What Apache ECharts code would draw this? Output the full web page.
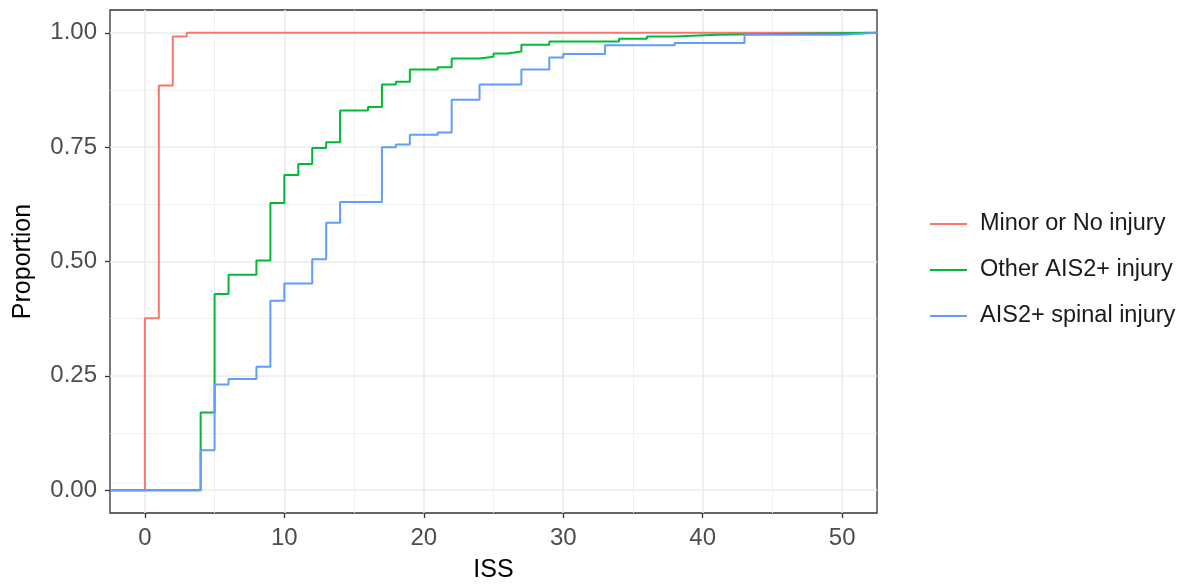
<!DOCTYPE html>
<html>
<head>
<meta charset="utf-8">
<script src="https://cdn.jsdelivr.net/npm/echarts@6/dist/echarts.min.js"></script>
<style>
  html, body { margin: 0; padding: 0; background: #fff; }
  #chart { width: 1184px; height: 585px; }
</style>
</head>
<body>
<div id="chart"></div>
<script>
// ECDF of ISS by injury group (padded with the axis ends like stat_ecdf)
const minorIss = [-2.5, 0, 1, 2, 3, 52.5]
const minorProp = [0, 0.376, 0.885, 0.992, 1.0, 1.0]

const otherIss = [-2.5, 4, 5, 6, 8, 9, 10, 11, 12, 13, 14, 16, 17, 18, 19, 21, 22, 24, 25, 26, 27, 29, 34, 36, 38, 41, 52.5]
const otherProp = [0, 0.170, 0.429, 0.471, 0.502, 0.628, 0.689, 0.713, 0.748, 0.761, 0.830, 0.838, 0.887, 0.893, 0.920, 0.925, 0.944, 0.948, 0.955, 0.959, 0.974, 0.981, 0.987, 0.992, 0.996, 1.0, 1.0]

const spinalIss = [-2.5, 4, 5, 6, 8, 9, 10, 12, 13, 14, 17, 18, 19, 21, 22, 24, 27, 29, 30, 33, 38, 43, 50, 52.5]
const spinalProp = [0, 0.087, 0.231, 0.243, 0.270, 0.414, 0.452, 0.505, 0.585, 0.630, 0.750, 0.756, 0.777, 0.782, 0.854, 0.887, 0.920, 0.946, 0.954, 0.973, 0.978, 0.996, 1.0, 1.0]

const xTicks = [0, 10, 20, 30, 40, 50]
const xMinor = [5, 15, 25, 35, 45]
const yTicks = [0, 0.25, 0.5, 0.75, 1]
const yMinor = [0.125, 0.375, 0.625, 0.875]

const groupNames = ['Minor or No injury', 'Other AIS2+ injury', 'AIS2+ spinal injury']
const groupColors = ['#F8766D', '#00BA38', '#619CFF']

const FONT = 'Liberation Sans, Arial, sans-serif'
const X_RANGE = [-2.5, 52.5]
const Y_RANGE = [-0.05, 1.05]

function pairs(xs, ys) {
  return xs.map((x, i) => [x, ys[i]])
}

function stepSeries(name, color, xs, ys) {
  return {
    name,
    type: 'line',
    step: 'end',
    symbol: 'none',
    data: pairs(xs, ys),
    lineStyle: { color, width: 2 },
    itemStyle: { color },
  }
}

// minor grid only: an invisible axis whose split lines sit on the minor breaks
function minorAxis(range, values, position) {
  return {
    type: 'value',
    min: range[0], max: range[1],
    position,
    axisLine: { show: false, onZero: false },
    axisTick: { show: false, customValues: values },
    axisLabel: { show: false, customValues: values },
    splitLine: { show: true, lineStyle: { color: '#EFEFEF', width: 0.9 } },
  }
}

const chart = echarts.init(document.getElementById('chart'), undefined, { renderer: 'canvas' })

chart.setOption({
  animation: false,
  backgroundColor: '#fff',
  grid: {
    left: 110, right: 307, top: 10, bottom: 72,
    outerBoundsMode: 'none',
    containLabel: false,
    show: true, borderColor: '#333', borderWidth: 1.3, backgroundColor: '#fff',
  },
  legend: {
    orient: 'vertical',
    left: 925,
    top: 207,
    icon: 'path://M0,0 H37 V2 H0 Z',
    itemWidth: 37,
    itemHeight: 2.5,
    itemGap: 22,
    data: groupNames,
    textStyle: { fontFamily: FONT, fontSize: 23.5, color: '#1a1a1a', padding: [0, 0, 0, 8], lineHeight: 24 },
  },
  xAxis: [
    {
      type: 'value',
      min: X_RANGE[0], max: X_RANGE[1],
      name: 'ISS',
      nameLocation: 'middle',
      nameGap: 45,
      nameTextStyle: { fontFamily: FONT, fontSize: 25, color: '#000' },
      axisLine: { show: false, onZero: false },
      axisTick: { show: true, customValues: xTicks, length: 5, lineStyle: { color: '#333', width: 1.3 } },
      axisLabel: { customValues: xTicks, margin: 13, fontFamily: FONT, fontSize: 24, color: '#4D4D4D' },
      splitLine: { show: true, lineStyle: { color: '#EBEBEB', width: 1.6 } },
    },
    minorAxis(X_RANGE, xMinor, 'bottom'),
  ],
  yAxis: [
    {
      type: 'value',
      min: Y_RANGE[0], max: Y_RANGE[1],
      name: 'Proportion',
      nameLocation: 'middle',
      nameGap: 74,
      nameRotate: 90,
      nameTextStyle: { fontFamily: FONT, fontSize: 25, color: '#000' },
      axisLine: { show: false, onZero: false },
      axisTick: { show: true, customValues: yTicks, length: 5, lineStyle: { color: '#333', width: 1.3 } },
      axisLabel: {
        customValues: yTicks, margin: 13, fontFamily: FONT, fontSize: 24, color: '#4D4D4D',
        formatter: (v) => v.toFixed(2),
      },
      splitLine: { show: true, lineStyle: { color: '#EBEBEB', width: 1.6 } },
    },
    minorAxis(Y_RANGE, yMinor, 'left'),
  ],
  series: [
    stepSeries(groupNames[0], groupColors[0], minorIss, minorProp),
    stepSeries(groupNames[1], groupColors[1], otherIss, otherProp),
    stepSeries(groupNames[2], groupColors[2], spinalIss, spinalProp),
  ],
})
</script>
</body>
</html>
